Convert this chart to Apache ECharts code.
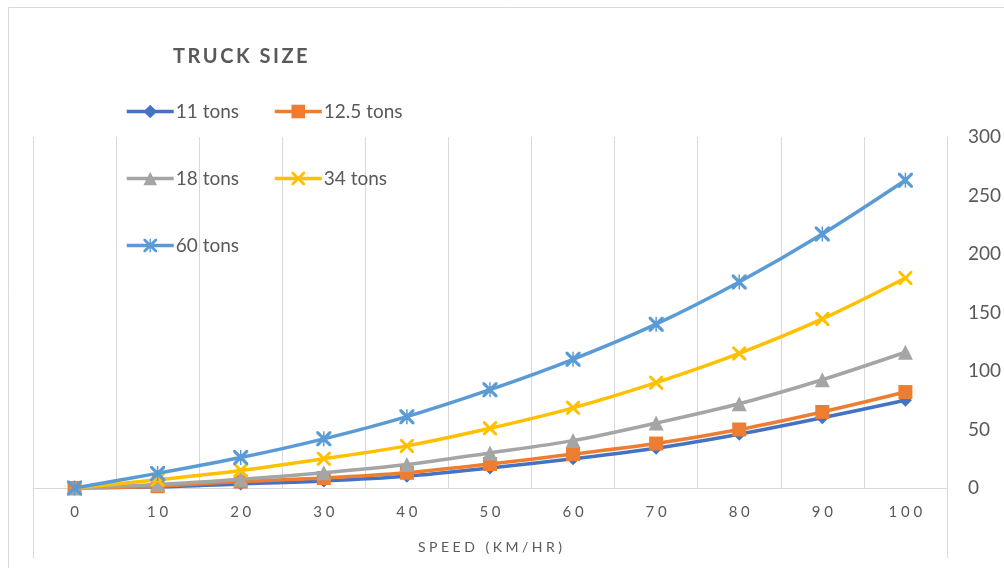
<!DOCTYPE html>
<html><head><meta charset="utf-8">
<script src="https://cdn.jsdelivr.net/npm/echarts@6/dist/echarts.min.js"></script>
<style>html,body{margin:0;padding:0;background:#fff}#c{width:1004px;height:568px}</style>
</head><body><div id="c"></div><script>
// ---- data ----
const speeds = [0, 10, 20, 30, 40, 50, 60, 70, 80, 90, 100];
const seriesNames = ['11 tons', '12.5 tons', '18 tons', '34 tons', '60 tons'];
const tons11   = [0, 1, 3.5, 6, 10, 17, 25, 34, 46, 60, 75];
const tons12_5 = [0, 1.5, 5.5, 8.5, 13, 20.5, 29, 38, 50, 65, 82];
const tons18   = [0, 3, 7.5, 13, 20, 30, 40.5, 55.5, 72, 92.5, 116];
const tons34   = [0, 7, 15, 25, 36, 51, 68.5, 90, 115, 144.5, 179.5];
const tons60   = [0, 12.5, 26, 42, 61, 84, 110, 140, 176, 217, 263];
const yTicks = {min: 0, max: 300, interval: 50};
const titleText = 'TRUCK SIZE';
const xAxisName = 'SPEED (KM/HR)';

// ---- style ----
const FONT = 'Lato, "Open Sans", sans-serif';
const TXT = '#595959';
const GRIDC = '#d9d9d9';
const sp = (s, c) => String(s).split('').join(c || '\u2009');
const G = {left: 33, right: 57, top: 137, bottom: 80};
const W = 1004, H = 568;

const X_PATH = 'path://M0,0L3,0L10,7L17,0L20,0L20,3L13,10L20,17L20,20L17,20L10,13L3,20L0,20L0,17L7,10L0,3Z';
const STAR_PATH = 'path://M0,0L3,0L10,7L17,0L20,0L20,3L13,10L20,17L20,20L17,20L10,13L3,20L0,20L0,17L7,10L0,3Z M9,0L11,0L11,20L9,20Z';

const styles = [
  {color: '#4472C4', symbol: 'diamond', size: 13},
  {color: '#ED7D31', symbol: 'rect', size: 14},
  {color: '#A5A5A5', symbol: 'triangle', size: 15},
  {color: '#FFC000', symbol: X_PATH, size: 14},
  {color: '#5B9BD5', symbol: STAR_PATH, size: 15}
];
const values = [tons11, tons12_5, tons18, tons34, tons60];

const series = seriesNames.map((n, i) => ({
  name: n, type: 'line', data: values[i], smooth: 0.3,
  symbol: styles[i].symbol, symbolSize: styles[i].size,
  lineStyle: {color: styles[i].color, width: 3.5},
  itemStyle: {color: styles[i].color},
  z: 2 + i
}));

const legendPos = [[125, 113], [273, 113], [125, 180], [273, 180], [125, 247]];
const legends = seriesNames.map((n, i) => ({
  data: [n], left: legendPos[i][0], top: legendPos[i][1] - 11, padding: 0,
  itemWidth: 47, itemHeight: 17, itemGap: 0, selectedMode: false,
  lineStyle: {width: 3.5},
  textStyle: {color: TXT, fontSize: 19, fontFamily: FONT, padding: [0, 0, 0, -3]}
}));

const chart = echarts.init(document.getElementById('c'));
chart.setOption({
  animation: false,
  backgroundColor: '#fff',
  title: {text: sp(titleText), left: 173, top: 47, padding: 0,
    textStyle: {color: TXT, fontSize: 20, fontWeight: 'bold', fontFamily: FONT}},
  legend: legends,
  grid: {left: G.left, right: G.right, top: G.top, bottom: G.bottom},
  xAxis: {
    type: 'category', data: speeds, boundaryGap: true,
    axisLine: {lineStyle: {color: GRIDC, width: 1}},
    axisTick: {show: false},
    splitLine: {show: true, lineStyle: {color: GRIDC, width: 1}},
    axisLabel: {color: TXT, fontSize: 15, fontFamily: FONT, margin: 17, formatter: v => sp(v, '\u2005')},
    name: sp(xAxisName, '\u2005'), nameLocation: 'middle', nameGap: 52,
    nameTextStyle: {color: TXT, fontSize: 14, fontFamily: FONT}
  },
  yAxis: {
    type: 'value', position: 'right', min: yTicks.min, max: yTicks.max, interval: yTicks.interval,
    splitLine: {show: false}, axisLine: {show: false}, axisTick: {show: false},
    axisLabel: {color: TXT, fontSize: 19, fontFamily: FONT, margin: 21}
  },
  graphic: [
    {type: 'rect', shape: {x: 8.5, y: 7.5, width: W, height: H}, style: {fill: 'none', stroke: GRIDC, lineWidth: 1}, silent: true},
    {type: 'line', shape: {x1: G.left + 0.5, y1: G.top, x2: G.left + 0.5, y2: H - 10}, style: {stroke: GRIDC, lineWidth: 1}, silent: true},
    {type: 'line', shape: {x1: W - G.right + 0.5, y1: G.top, x2: W - G.right + 0.5, y2: H - 10}, style: {stroke: GRIDC, lineWidth: 1}, silent: true}
  ],
  series: series
});
</script></body></html>
